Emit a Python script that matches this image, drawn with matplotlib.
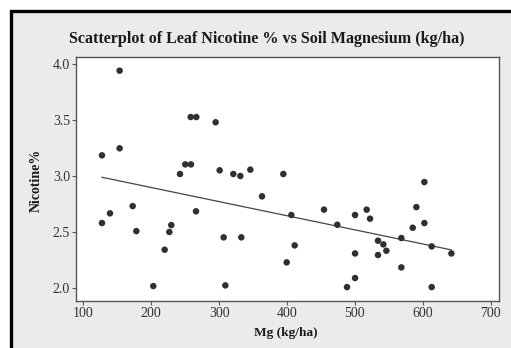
import numpy as np
import matplotlib
matplotlib.use("Agg")
import matplotlib.pyplot as plt
from matplotlib.patches import Rectangle

title = "Scatterplot of Leaf Nicotine % vs Soil Magnesium (kg/ha)"
xlabel = "Mg (kg/ha)"
ylabel = "Nicotine%"

mg = [127.5, 127.5, 139.3, 153.5, 153.5, 172.7, 178.1, 203.1, 219.8, 226.7,
      229.6, 242.4, 250.2, 258.6, 258.1, 266.4, 266.0, 294.9, 300.8, 306.7,
      309.2, 320.9, 331.3, 332.7, 346.0, 363.2, 394.6, 399.5, 406.4, 411.3,
      454.5, 474.1, 488.4, 500.2, 500.2, 500.2, 517.3, 522.3, 534.0, 534.0,
      541.9, 546.3, 568.4, 568.4, 585.1, 590.5, 602.3, 602.3, 613.1, 613.1,
      642.1]
nicotine = [3.185, 2.579, 2.666, 3.943, 3.248, 2.731, 2.507, 2.015, 2.340, 2.499,
            2.561, 3.018, 3.104, 3.104, 3.528, 3.528, 2.684, 3.481, 3.051, 2.451,
            2.021, 3.018, 3.000, 2.451, 3.057, 2.818, 3.018, 2.227, 2.651, 2.379,
            2.699, 2.564, 2.006, 2.651, 2.307, 2.087, 2.699, 2.618, 2.421, 2.293,
            2.388, 2.331, 2.445, 2.182, 2.537, 2.722, 2.946, 2.579, 2.370, 2.006,
            2.307]
xticks = [100, 200, 300, 400, 500, 600, 700]
yticks = [2.0, 2.5, 3.0, 3.5, 4.0]

W, H = 511, 348
fig = plt.figure(figsize=(W / 100, H / 100), dpi=100, facecolor="white")
fig.patches.append(Rectangle((11 / W, -0.2), 1.2, 0.2 + 1 - 11 / H,
                             transform=fig.transFigure, facecolor="#ebebeb",
                             edgecolor="black", linewidth=2.4, zorder=-5))

ax = fig.add_axes([76.3 / W, 1 - 300.7 / H, (499 - 76.3) / W, (300.7 - 56.7) / H])
ax.set_zorder(2)
ax.set_facecolor("white")

x = np.array(mg)
y = np.array(nicotine)
ax.scatter(x, y, s=22, color="#303030", edgecolors="none", zorder=3)
b, a = np.polyfit(x, y, 1)
xs = np.array([x.min(), x.max()])
ax.plot(xs, a + b * xs, color="#444444", linewidth=0.9, zorder=2)

ax.set_xlim(89.7, 712.2)
ax.set_ylim(1.884, 4.068)
ax.set_xticks(xticks)
ax.set_xticklabels([str(v) for v in xticks])
ax.set_yticks(yticks)
ax.set_yticklabels([f"{v:.1f}" for v in yticks])

serif = ["Liberation Serif", "DejaVu Serif"]
for lbl in ax.get_xticklabels() + ax.get_yticklabels():
    lbl.set_family(serif)
    lbl.set_fontsize(10)
    lbl.set_color("#333333")
ax.tick_params(direction="out", length=3, width=0.8, color="#555555", pad=1.5)

for side in ["top", "right", "left", "bottom"]:
    ax.spines[side].set_color("#555555")
    ax.spines[side].set_linewidth(1.0)

fig.text(0.5 * (68 + 466) / W, 1 - 39 / H, title, ha="center", va="center",
         family=serif, fontweight="bold", fontsize=11.6, color="#1a1a1a")
fig.text(286 / W, 1 - 333 / H, xlabel, ha="center", va="center",
         family=serif, fontweight="bold", fontsize=9.6, color="#1a1a1a")
fig.text(36 / W, 1 - 180 / H, ylabel, ha="center", va="center", rotation=90,
         family=serif, fontweight="bold", fontsize=10, color="#1a1a1a")

fig.savefig("out.png", dpi=100)
